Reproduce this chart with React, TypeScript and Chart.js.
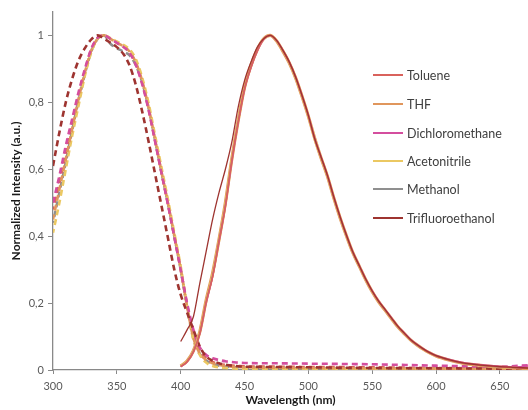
import React, { useEffect, useRef } from "react";
import { Chart, registerables } from "chart.js";

Chart.register(...registerables);

// Solvent names and colours
const solvents = ["Toluene", "THF", "Dichloromethane", "Acetonitrile", "Methanol", "Trifluoroethanol"];
const colors = ["#D9625C", "#E0965C", "#D44E9E", "#EBC862", "#8F8F8F", "#9E3430"];

// Absorption wavelengths (dashed curves)
const absX = [300, 305, 310, 315, 320, 325, 330, 335, 340, 345, 350, 355, 360, 365, 370, 375, 380, 385, 390, 395, 400, 405, 410, 415, 420, 425, 430, 435, 440, 445, 450, 475, 500, 550, 600, 650, 672];
const absToluene = [0.48, 0.56, 0.65, 0.74, 0.82, 0.895, 0.958, 0.992, 1.0, 0.99, 0.978, 0.967, 0.95, 0.914, 0.857, 0.778, 0.685, 0.59, 0.497, 0.4, 0.3, 0.195, 0.105, 0.06, 0.035, 0.024, 0.018, 0.015, 0.013, 0.012, 0.011, 0.01, 0.009, 0.008, 0.006, 0.005, 0.005];
const absTHF = [0.45, 0.54, 0.63, 0.72, 0.81, 0.89, 0.955, 0.99, 1.0, 0.99, 0.978, 0.968, 0.952, 0.918, 0.862, 0.782, 0.688, 0.592, 0.5, 0.402, 0.302, 0.19, 0.095, 0.05, 0.03, 0.02, 0.015, 0.012, 0.01, 0.009, 0.008, 0.007, 0.006, 0.005, 0.004, 0.004, 0.003];
const absDCM = [0.5, 0.58, 0.67, 0.75, 0.83, 0.9, 0.96, 0.993, 1.0, 0.99, 0.978, 0.966, 0.948, 0.91, 0.852, 0.775, 0.682, 0.588, 0.495, 0.398, 0.3, 0.2, 0.12, 0.068, 0.045, 0.035, 0.03, 0.026, 0.024, 0.022, 0.021, 0.02, 0.019, 0.017, 0.013, 0.01, 0.014];
const absACN = [0.41, 0.5, 0.6, 0.7, 0.79, 0.88, 0.95, 0.99, 1.0, 0.992, 0.982, 0.972, 0.958, 0.928, 0.872, 0.795, 0.7, 0.605, 0.51, 0.41, 0.31, 0.19, 0.09, 0.045, 0.022, 0.012, 0.008, 0.006, 0.005, 0.004, 0.004, 0.003, 0.003, 0.002, 0.002, 0.002, 0.002];
const absMeOH = [0.44, 0.53, 0.62, 0.715, 0.805, 0.885, 0.952, 0.99, 1.0, 0.975, 0.962, 0.952, 0.94, 0.91, 0.858, 0.78, 0.686, 0.59, 0.498, 0.4, 0.3, 0.188, 0.092, 0.048, 0.028, 0.018, 0.013, 0.01, 0.009, 0.008, 0.007, 0.006, 0.005, 0.004, 0.004, 0.003, 0.003];
const absTFE = [0.61, 0.71, 0.8, 0.87, 0.925, 0.962, 0.988, 1.0, 0.99, 0.978, 0.965, 0.945, 0.91, 0.85, 0.77, 0.68, 0.585, 0.49, 0.395, 0.3, 0.225, 0.172, 0.12, 0.07, 0.04, 0.028, 0.02, 0.016, 0.013, 0.011, 0.01, 0.009, 0.008, 0.006, 0.005, 0.004, 0.003];

// Emission wavelengths (solid curves)
const emX = [400, 405, 410, 415, 420, 425, 430, 435, 440, 445, 450, 455, 460, 465, 470, 475, 480, 485, 490, 495, 500, 505, 510, 515, 520, 525, 530, 535, 540, 545, 550, 555, 560, 565, 570, 575, 580, 585, 590, 595, 600, 610, 620, 630, 640, 650, 660, 672];
const emToluene = [0.01, 0.025, 0.055, 0.11, 0.205, 0.28, 0.385, 0.49, 0.625, 0.74, 0.84, 0.905, 0.955, 0.99, 1.0, 0.985, 0.955, 0.92, 0.875, 0.82, 0.76, 0.69, 0.635, 0.58, 0.515, 0.455, 0.4, 0.35, 0.31, 0.27, 0.235, 0.205, 0.18, 0.155, 0.13, 0.11, 0.09, 0.075, 0.062, 0.051, 0.042, 0.03, 0.021, 0.016, 0.012, 0.009, 0.007, 0.005];
const emTHF = [0.012, 0.027, 0.058, 0.115, 0.21, 0.29, 0.39, 0.5, 0.63, 0.745, 0.845, 0.91, 0.958, 0.99, 1.0, 0.984, 0.953, 0.918, 0.873, 0.818, 0.758, 0.692, 0.633, 0.578, 0.513, 0.453, 0.399, 0.349, 0.309, 0.269, 0.234, 0.204, 0.179, 0.154, 0.129, 0.109, 0.09, 0.075, 0.062, 0.051, 0.042, 0.03, 0.021, 0.016, 0.012, 0.009, 0.007, 0.005];
const emDCM = [0.01, 0.024, 0.054, 0.108, 0.2, 0.278, 0.382, 0.488, 0.62, 0.738, 0.838, 0.903, 0.953, 0.988, 1.0, 0.986, 0.957, 0.922, 0.877, 0.822, 0.762, 0.692, 0.637, 0.582, 0.517, 0.457, 0.402, 0.352, 0.312, 0.272, 0.237, 0.207, 0.182, 0.157, 0.132, 0.112, 0.092, 0.077, 0.064, 0.053, 0.044, 0.032, 0.023, 0.018, 0.014, 0.011, 0.009, 0.012];
const emACN = [0.011, 0.026, 0.056, 0.112, 0.205, 0.284, 0.386, 0.494, 0.626, 0.742, 0.842, 0.906, 0.956, 0.99, 1.0, 0.985, 0.955, 0.92, 0.875, 0.82, 0.76, 0.69, 0.635, 0.58, 0.515, 0.455, 0.4, 0.35, 0.31, 0.27, 0.235, 0.205, 0.18, 0.155, 0.13, 0.11, 0.09, 0.075, 0.062, 0.051, 0.042, 0.03, 0.021, 0.016, 0.012, 0.009, 0.007, 0.005];
const emMeOH = [0.01, 0.025, 0.056, 0.11, 0.203, 0.282, 0.386, 0.492, 0.624, 0.74, 0.84, 0.905, 0.955, 0.99, 1.0, 0.985, 0.955, 0.92, 0.875, 0.82, 0.76, 0.69, 0.635, 0.58, 0.515, 0.455, 0.4, 0.35, 0.31, 0.27, 0.235, 0.205, 0.18, 0.155, 0.13, 0.11, 0.09, 0.075, 0.062, 0.051, 0.042, 0.03, 0.021, 0.016, 0.012, 0.009, 0.007, 0.005];
const emTFE = [0.085, 0.12, 0.16, 0.26, 0.355, 0.45, 0.53, 0.6, 0.68, 0.785, 0.865, 0.92, 0.965, 0.99, 1.0, 0.986, 0.956, 0.921, 0.876, 0.821, 0.761, 0.691, 0.636, 0.581, 0.516, 0.456, 0.401, 0.351, 0.311, 0.271, 0.236, 0.206, 0.181, 0.156, 0.131, 0.111, 0.091, 0.076, 0.063, 0.052, 0.043, 0.031, 0.022, 0.017, 0.013, 0.01, 0.008, 0.006];

// Axis ticks
const yTicks = [0, 0.2, 0.4, 0.6, 0.8, 1];
const yTickLabels = ["0", "0,2", "0,4", "0,6", "0,8", "1"];

const absSeries = [absToluene, absTHF, absDCM, absACN, absMeOH, absTFE];
const emSeries = [emToluene, emTHF, emDCM, emACN, emMeOH, emTFE];

// drawing order (lower = on top) and line widths per solvent
const emOrder = [2, 6, 3, 5, 4, 1];
const emWidth = [1.6, 3.2, 1.4, 2.4, 1.4, 1.3];
const absOrder = [14, 12, 11, 13, 15, 10];
const absOffset = [3, 1, 0, 2, 4, 0];

const FONT = "Lato, 'Liberation Sans', sans-serif";

export default function App() {
  const canvasRef = useRef<HTMLCanvasElement | null>(null);

  useEffect(() => {
    const canvas = canvasRef.current;
    if (!canvas) return;
    const toPts = (xs: number[], ys: number[]) => xs.map((x, i) => ({ x, y: ys[i] }));
    const emDatasets = solvents.map((name, i) => ({
      label: name,
      data: toPts(emX, emSeries[i]),
      borderColor: colors[i],
      backgroundColor: colors[i],
      borderWidth: emWidth[i],
      showLine: true,
      pointRadius: 0,
      cubicInterpolationMode: "monotone" as const,
      order: emOrder[i],
    }));
    const absDatasets = solvents.map((name, i) => ({
      label: name + " abs",
      data: toPts(absX, absSeries[i]),
      borderColor: colors[i],
      backgroundColor: colors[i],
      borderWidth: 2.6,
      borderDash: [6, 4],
      borderDashOffset: absOffset[i],
      showLine: true,
      pointRadius: 0,
      cubicInterpolationMode: "monotone" as const,
      order: absOrder[i],
    }));

    const chart = new Chart(canvas, {
      type: "scatter",
      data: { datasets: [...emDatasets, ...absDatasets] as any },
      options: {
        animation: false,
        responsive: false,
        maintainAspectRatio: false,
        layout: { padding: { top: 12, right: 0, left: 0, bottom: 0 } },
        plugins: { legend: { display: false }, tooltip: { enabled: false } },
        scales: {
          x: {
            type: "linear",
            min: 300,
            max: 672,
            afterFit: (s: any) => { s.height = 40; },
            ticks: {
              stepSize: 50,
              includeBounds: false,
              color: "#595959",
              font: { family: FONT, size: 11 },
              padding: 6,
              maxRotation: 0,
            },
            grid: { drawOnChartArea: false, drawTicks: true, tickLength: 4, color: "#898989", lineWidth: 1 },
            border: { color: "#898989", width: 1.3 },
            title: {
              display: true,
              text: "Wavelength (nm)",
              color: "#1a1a1a",
              font: { family: FONT, size: 12, weight: "bold" },
              padding: { top: 0, bottom: 3 },
            },
          },
          y: {
            type: "linear",
            min: 0,
            max: 1.07,
            afterFit: (s: any) => { s.width = 53; },
            afterBuildTicks: (s: any) => { s.ticks = yTicks.map((v) => ({ value: v })); },
            ticks: {
              color: "#595959",
              font: { family: FONT, size: 11 },
              padding: 4,
              callback: (v: any) => {
                const idx = yTicks.findIndex((t) => Math.abs(t - Number(v)) < 1e-6);
                return idx >= 0 ? yTickLabels[idx] : "";
              },
            },
            grid: { drawOnChartArea: false, drawTicks: true, tickLength: 5, color: "#898989", lineWidth: 1 },
            border: { color: "#898989", width: 1.3 },
            title: {
              display: true,
              text: "Normalized Intensity (a.u.)",
              color: "#1a1a1a",
              font: { family: FONT, size: 12, weight: "bold" },
              padding: { top: 9, bottom: 0 },
            },
          },
        },
      },
    });
    return () => chart.destroy();
  }, []);

  const legendY = [75, 104, 133, 161, 189, 218];

  return (
    <div style={{ position: "absolute", left: 0, top: 0, width: 528, height: 410, background: "#fff" }}>
      <canvas ref={canvasRef} width={528} height={410} style={{ display: "block", width: 528, height: 410 }} />
      {solvents.map((name, i) => (
        <div
          key={name}
          style={{
            position: "absolute",
            left: 373,
            top: legendY[i] - 9,
            height: 18,
            display: "flex",
            alignItems: "center",
            fontFamily: FONT,
            fontSize: 12.5,
            color: "#404040",
            whiteSpace: "nowrap",
          }}
        >
          <span style={{ display: "inline-block", width: 30, height: 2.5, background: colors[i], marginRight: 4 }} />
          <span>{name}</span>
        </div>
      ))}
    </div>
  );
}
